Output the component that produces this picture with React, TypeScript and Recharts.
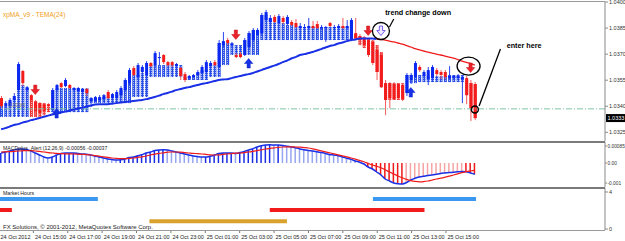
import React from "react";
import {
  ComposedChart,
  Bar,
  Line,
  XAxis,
  YAxis,
  Cell,
  ReferenceLine,
  ReferenceDot,
} from "recharts";

const FONT = "'Liberation Sans', Arial, sans-serif";

// 15 minute bars, 24 Oct 2012 13:00 -> 25 Oct 2012 15:45
const opens = [
  1.03447, 1.03401, 1.03401, 1.03436, 1.03493, 1.03603, 1.03493, 1.03464, 1.03424, 1.03418,
  1.03412, 1.03412, 1.03378, 1.03493, 1.03533, 1.03516, 1.03522, 1.03493, 1.03487, 1.03482,
  1.03499, 1.0343, 1.0343, 1.03436, 1.03441, 1.03482, 1.03447, 1.03447, 1.03464, 1.03493,
  1.03533, 1.0362, 1.03568, 1.03597, 1.0358, 1.03649, 1.03637, 1.03677, 1.03695, 1.03654,
  1.03654, 1.03631, 1.0362, 1.03585, 1.03562, 1.03568, 1.0358, 1.03591, 1.03597, 1.03631,
  1.03654, 1.03626, 1.03752, 1.03781, 1.03752, 1.03695, 1.037, 1.03695, 1.03741, 1.03781,
  1.0381, 1.03821, 1.03896, 1.03885, 1.03914, 1.03879, 1.03908, 1.03873, 1.03885, 1.03879,
  1.0385, 1.0385, 1.0385, 1.03862, 1.03873, 1.0385, 1.0385, 1.03879, 1.0385, 1.0385,
  1.03862, 1.0385, 1.03781, 1.03821, 1.03804, 1.03793, 1.03781, 1.0377, 1.03724, 1.03695,
  1.03533, 1.03533, 1.03528, 1.03528, 1.03522, 1.03476, 1.03551, 1.03568, 1.03626, 1.03574,
  1.03556, 1.03562, 1.03608, 1.03597, 1.03597, 1.03562, 1.03562, 1.03562, 1.03556, 1.03562,
  1.03533, 1.03528,
];
const highs = [
  1.03459, 1.0343, 1.03447, 1.03476, 1.03654, 1.03608, 1.03516, 1.0347, 1.03436, 1.03424,
  1.03418, 1.03418, 1.03505, 1.03528, 1.03539, 1.03562, 1.03528, 1.0351, 1.0351, 1.03505,
  1.03505, 1.03453, 1.03459, 1.03464, 1.0347, 1.03493, 1.03476, 1.03493, 1.03516, 1.03562,
  1.0362, 1.03631, 1.03649, 1.03637, 1.0366, 1.03654, 1.03718, 1.03712, 1.037, 1.0366,
  1.0366, 1.03649, 1.03626, 1.03597, 1.0358, 1.03585, 1.03608, 1.03637, 1.03666, 1.0366,
  1.03666, 1.03781, 1.03827, 1.03793, 1.0377, 1.03706, 1.03712, 1.03793, 1.03833, 1.0385,
  1.0385, 1.03937, 1.03954, 1.03925, 1.03925, 1.03931, 1.03919, 1.03925, 1.03896, 1.03902,
  1.03879, 1.03873, 1.03908, 1.03891, 1.03891, 1.03868, 1.03862, 1.03885, 1.03868, 1.03873,
  1.03908, 1.03896, 1.03908, 1.03908, 1.03816, 1.03804, 1.03793, 1.03781, 1.03752, 1.03712,
  1.03551, 1.03539, 1.03539, 1.03533, 1.03533, 1.03591, 1.03591, 1.0366, 1.03637, 1.03608,
  1.03626, 1.03637, 1.0362, 1.03608, 1.03608, 1.03631, 1.0358, 1.03585, 1.03574, 1.03574,
  1.03551, 1.03539,
];
const lows = [
  1.03389, 1.03389, 1.03395, 1.03424, 1.03482, 1.03516, 1.03482, 1.0343, 1.03338, 1.03332,
  1.03349, 1.03389, 1.03372, 1.03487, 1.03505, 1.0351, 1.03499, 1.03482, 1.03482, 1.0347,
  1.03459, 1.03395, 1.03424, 1.0343, 1.0343, 1.03441, 1.03441, 1.03441, 1.03453, 1.03482,
  1.03522, 1.03574, 1.03556, 1.03585, 1.03568, 1.03626, 1.03626, 1.03637, 1.03643, 1.03631,
  1.03626, 1.03626, 1.03551, 1.03539, 1.03551, 1.03562, 1.03574, 1.03585, 1.03591, 1.03626,
  1.03631, 1.0362, 1.03741, 1.03752, 1.03741, 1.03677, 1.03677, 1.03689, 1.03724, 1.0377,
  1.03804, 1.0381, 1.03885, 1.03873, 1.03879, 1.03873, 1.03873, 1.03868, 1.03862, 1.0385,
  1.03845, 1.03845, 1.03845, 1.03845, 1.03845, 1.03839, 1.0377, 1.03856, 1.03845, 1.03845,
  1.03845, 1.03845, 1.03775, 1.03781, 1.03752, 1.03735, 1.03683, 1.03637, 1.03551, 1.03505,
  1.03349, 1.03389, 1.03436, 1.03436, 1.0343, 1.03459, 1.03528, 1.03562, 1.03597, 1.03562,
  1.03522, 1.03551, 1.03574, 1.03556, 1.03556, 1.03551, 1.03551, 1.03551, 1.03418, 1.03412,
  1.03315, 1.0332,
];
const closes = [
  1.03401, 1.03418, 1.03436, 1.03459, 1.03643, 1.03533, 1.0351, 1.03436, 1.03372, 1.03361,
  1.03372, 1.03401, 1.03493, 1.03522, 1.0351, 1.03551, 1.03505, 1.03505, 1.03505, 1.03499,
  1.03476, 1.03447, 1.03453, 1.03453, 1.03464, 1.03447, 1.0347, 1.03482, 1.03505, 1.03551,
  1.03608, 1.0358, 1.03637, 1.03626, 1.03649, 1.03631, 1.03706, 1.03683, 1.03654, 1.03637,
  1.03637, 1.03643, 1.03574, 1.03551, 1.03574, 1.0358, 1.03597, 1.03626, 1.03654, 1.03649,
  1.03637, 1.03764, 1.03775, 1.03764, 1.03758, 1.03683, 1.03683, 1.03781, 1.03821, 1.03839,
  1.03839, 1.03925, 1.03942, 1.03908, 1.03885, 1.03919, 1.03885, 1.03914, 1.03868, 1.03856,
  1.03862, 1.03856, 1.03862, 1.0385, 1.0385, 1.03856, 1.03856, 1.03862, 1.03856, 1.03862,
  1.0385, 1.03862, 1.03896, 1.03793, 1.03781, 1.03752, 1.03695, 1.03649, 1.03597, 1.0351,
  1.03436, 1.03447, 1.03441, 1.03447, 1.03441, 1.0358, 1.0358, 1.03649, 1.03608, 1.03597,
  1.03608, 1.03626, 1.03585, 1.0358, 1.03568, 1.03574, 1.03574, 1.03574, 1.03568, 1.03464,
  1.03389, 1.03332,
];

// xpMA hatched trend blocks (top / bottom price) and their direction
const bandTop = [
  1.03401, 1.03401, 1.03424, 1.03447, 1.03643, 1.03522, 1.03505, 1.03436, 1.0343, 1.03418,
  1.03418, 1.03412, 1.03493, 1.03505, 1.03505, 1.03505, 1.03505, 1.03505, 1.03505, 1.03505,
  1.03505, 1.03447, 1.03447, 1.03447, 1.03453, 1.03453, 1.03453, 1.03464, 1.03493, 1.03551,
  1.03608, 1.0358, 1.0358, 1.03591, 1.0358, 1.03637, 1.03637, 1.03637, 1.03637, 1.03637,
  1.03637, 1.03637, 1.03637, 1.03568, 1.03568, 1.03568, 1.03591, 1.03608, 1.03608, 1.03637,
  1.03637, 1.03764, 1.03764, 1.03764, 1.03764, 1.03752, 1.03752, 1.03781, 1.03821, 1.03839,
  1.03839, 1.03925, 1.03925, 1.03908, 1.03885, 1.03879, 1.03879, 1.03868, 1.03868, 1.03856,
  1.03856, 1.03856, 1.03856, 1.03856, 1.03856, 1.03856, 1.03856, 1.03856, 1.03856, 1.03856,
  1.03856, 1.03856, 1.03896, 1.0381, 1.03804, 1.03798, 1.03793, 1.03781, 1.03752, 1.03712,
  1.03533, 1.03533, 1.03533, 1.03533, 1.03533, 1.0358, 1.0358, 1.0358, 1.0358, 1.0358,
  1.03574, 1.03574, 1.03574, 1.03574, 1.03574, 1.0358, 1.0358, 1.0358, 1.0358, 1.03551,
  1.03533, 1.03528,
];
const bandBottom = [
  1.03338, 1.03338, 1.03338, 1.03338, 1.03338, 1.03338, 1.03338, 1.03338, 1.03338, 1.03338,
  1.03349, 1.03366, 1.03366, 1.03366, 1.03366, 1.03366, 1.03366, 1.03366, 1.03366, 1.03366,
  1.03366, 1.03418, 1.03418, 1.03418, 1.03418, 1.03418, 1.03418, 1.03418, 1.03418, 1.03418,
  1.03418, 1.03453, 1.03453, 1.03453, 1.03453, 1.03568, 1.03568, 1.03568, 1.03568, 1.03568,
  1.03568, 1.03568, 1.03568, 1.03551, 1.03551, 1.03551, 1.03551, 1.03551, 1.03551, 1.03568,
  1.03568, 1.03568, 1.03637, 1.03637, 1.03695, 1.03695, 1.03695, 1.03695, 1.03695, 1.03695,
  1.03695, 1.03781, 1.03781, 1.03781, 1.03781, 1.03781, 1.03781, 1.03781, 1.03781, 1.03781,
  1.03781, 1.03781, 1.03781, 1.03781, 1.03781, 1.03781, 1.03781, 1.03781, 1.03781, 1.03781,
  1.03781, 1.03781, 1.03781, 1.03781, 1.03752, 1.03735, 1.03695, 1.03649, 1.03597, 1.0351,
  1.03436, 1.03436, 1.03436, 1.03436, 1.03436, 1.03476, 1.03533, 1.03533, 1.03539, 1.03539,
  1.03539, 1.03539, 1.03539, 1.03539, 1.03539, 1.03539, 1.03539, 1.03539, 1.03539, 1.03464,
  1.03389, 1.03332,
];
const bandTrend = [
  1, 1, 1, 1, 1, 1, 1, -1, -1, -1,
  -1, -1, 1, 1, 1, 1, 1, 1, 1, 1,
  1, 1, 1, 1, 1, 1, 1, 1, 1, 1,
  1, 1, 1, 1, 1, 1, 1, 1, 1, 1,
  1, 1, 1, 1, 1, 1, 1, 1, 1, 1,
  1, 1, 1, 1, 1, 1, 1, 1, 1, 1,
  1, 1, 1, 1, 1, 1, 1, 1, 1, 1,
  1, 1, 1, 1, 1, 1, 1, 1, 1, 1,
  1, 1, 1, -1, -1, -1, -1, -1, -1, -1,
  -1, -1, -1, -1, -1, 1, 1, 1, 1, 1,
  1, 1, 1, 1, 1, 1, 1, 1, 1, -1,
  -1, -1,
];

// TEMA(24): blue while rising, red after it turns
const tema = [
  1.03268, 1.03274, 1.03283, 1.03292, 1.03297, 1.03306, 1.03312, 1.0332, 1.03326, 1.03332,
  1.0334, 1.03346, 1.03352, 1.03358, 1.03364, 1.03369, 1.03375, 1.03381, 1.03387, 1.03392,
  1.03398, 1.03404, 1.0341, 1.03412, 1.03412, 1.03412, 1.03415, 1.03418, 1.03421, 1.03424,
  1.03427, 1.0343, 1.03433, 1.03436, 1.03441, 1.03447, 1.03453, 1.03461, 1.0347, 1.03476,
  1.03484, 1.03493, 1.03499, 1.03505, 1.0351, 1.03516, 1.03522, 1.03528, 1.03533, 1.03539,
  1.03545, 1.03551, 1.03554, 1.03556, 1.03562, 1.03568, 1.03574, 1.0358, 1.03585, 1.03591,
  1.036, 1.03608, 1.03617, 1.03626, 1.03634, 1.03643, 1.03654, 1.03663, 1.03675, 1.03683,
  1.03695, 1.037, 1.03706, 1.03712, 1.03721, 1.03729, 1.03738, 1.03747, 1.03752, 1.03761,
  1.03767, 1.03775, 1.03781, 1.03784, 1.0379, 1.0379, 1.0379, 1.0379, 1.03787, 1.03784,
  1.03781, 1.03775, 1.0377, 1.03764, 1.03758, 1.03749, 1.03741, 1.03732, 1.03724, 1.03718,
  1.03712, 1.03706, 1.037, 1.03695, 1.03689, 1.03683, 1.03677, 1.03669, 1.0366, 1.03652,
  1.03646, 1.03637,
];
const temaTurn = 88;

const macdMain = [
  0.0005, 0.00055, 0.0006, 0.00065, 0.0007, 0.0007, 0.00068, 0.0006, 0.0005, 0.0004,
  0.0003, 0.00025, 0.0003, 0.0004, 0.00048, 0.0005, 0.0005, 0.0005, 0.00048, 0.00045,
  0.00044, 0.0004, 0.00035, 0.0003, 0.00025, 0.0002, 0.00017, 0.00015, 0.00016, 0.0002,
  0.00027, 0.0003, 0.00036, 0.00042, 0.0005, 0.00055, 0.00062, 0.00065, 0.00066, 0.00065,
  0.0006, 0.00055, 0.0005, 0.00045, 0.0004, 0.00035, 0.00032, 0.0003, 0.0003, 0.00034,
  0.0004, 0.00048, 0.0005, 0.0005, 0.0005, 0.00048, 0.00052, 0.00058, 0.00065, 0.00072,
  0.0008, 0.00086, 0.0009, 0.00091, 0.0009, 0.0009, 0.00088, 0.00084, 0.0008, 0.00076,
  0.0007, 0.00066, 0.00062, 0.0006, 0.00056, 0.00052, 0.00048, 0.00042, 0.0004, 0.00036,
  0.0003, 0.00024, 0.00018, 0.0001, 0.00004, -0.00005, -0.0002, -0.0003, -0.00045, -0.0006,
  -0.0008, -0.0009, -0.001, -0.00104, -0.00105, -0.00098, -0.00085, -0.00076, -0.0007, -0.00066,
  -0.00062, -0.0006, -0.00056, -0.00052, -0.0005, -0.00048, -0.00046, -0.00044, -0.00042, -0.00044,
  -0.0005, -0.00056,
];
const macdSignal = [
  0.00055, 0.00056, 0.00057, 0.00058, 0.0006, 0.00061, 0.00062, 0.00062, 0.0006, 0.00058,
  0.00055, 0.00052, 0.0005, 0.00048, 0.00047, 0.00046, 0.00046, 0.00045, 0.00044, 0.00043,
  0.00042, 0.0004, 0.00037, 0.00034, 0.00031, 0.00028, 0.00025, 0.00023, 0.00022, 0.00022,
  0.00023, 0.00025, 0.00028, 0.00031, 0.00035, 0.0004, 0.00044, 0.00048, 0.00051, 0.00054,
  0.00055, 0.00055, 0.00054, 0.00052, 0.0005, 0.00048, 0.00047, 0.00045, 0.00043, 0.00041,
  0.0004, 0.00041, 0.00043, 0.00045, 0.00047, 0.00049, 0.0005, 0.00052, 0.00055, 0.00058,
  0.00062, 0.00066, 0.0007, 0.00073, 0.00076, 0.00078, 0.0008, 0.00081, 0.00081, 0.0008,
  0.00079, 0.00077, 0.00075, 0.00071, 0.00066, 0.00061, 0.00056, 0.00051, 0.00046, 0.00041,
  0.00036, 0.00031, 0.00025, 0.00019, 0.00013, 0.00006, -0.00002, -0.0001, -0.00016, -0.00024,
  -0.00034, -0.00045, -0.00055, -0.00065, -0.00074, -0.00082, -0.00088, -0.00092, -0.00094, -0.00093,
  -0.0009, -0.00085, -0.0008, -0.00076, -0.00071, -0.00066, -0.0006, -0.00054, -0.00048, -0.00043,
  -0.0004, -0.00037,
];

// Market Hours panel: bar index ranges of each session and its level
const sessionBlue = [[0, 23], [87, 111]];
const sessionRed = [[0, 3], [63, 99]];
const sessionGold = [[35, 67]];
const levelBlue = 3.25;
const levelRed = 2.05;
const levelGold = 0.85;

// signal arrows (bar index, price)
const sellBars = [8, 55, 86, 110];
const sellPrices = [1.03493, 1.0381, 1.03833, 1.0362];
const buyBars = [13, 58, 96];
const buyPrices = [1.03361, 1.03649, 1.03482];
const trendBar = 89;
const trendPrice = 1.03833;
const hLinePrice = 1.03385;

const timeLabels = [
  "24 Oct 2012", "24 Oct 15:00", "24 Oct 17:00", "24 Oct 19:00", "24 Oct 21:00",
  "24 Oct 23:00", "25 Oct 01:00", "25 Oct 03:00", "25 Oct 05:00", "25 Oct 07:00",
  "25 Oct 09:00", "25 Oct 11:00", "25 Oct 13:00", "25 Oct 15:00",
];
const TICK_EVERY = 8;
const priceTicks = [1.0325, 1.034, 1.0355, 1.037, 1.0385, 1.04];
const macdTicks = [-0.001, 0, 0.00085];
const hoursTicks = [0, 4];

const SLOTS = 142; // visible bar slots, the right part is still empty
const CHART_W = 627;
const AXIS_W = 21;

const inRanges = (ranges: number[][], i: number) =>
  ranges.some(([a, b]) => i >= a && i <= b);

const rows = Array.from({ length: SLOTS }, (_, i) => {
  const has = i < opens.length;
  return {
    t: i,
    candle: has
      ? [Math.min(lows[i], bandBottom[i]), Math.max(highs[i], bandTop[i])]
      : null,
    o: has ? opens[i] : null,
    h: has ? highs[i] : null,
    l: has ? lows[i] : null,
    c: has ? closes[i] : null,
    bt: has ? bandTop[i] : null,
    bb: has ? bandBottom[i] : null,
    trend: has ? bandTrend[i] : 0,
    temaUp: has && i <= temaTurn ? tema[i] : null,
    temaDown: has && i >= temaTurn ? tema[i] : null,
    macd: has ? macdMain[i] : null,
    signal: has ? macdSignal[i] : null,
    sBlue: has && inRanges(sessionBlue, i) ? levelBlue : null,
    sRed: has && inRanges(sessionRed, i) ? levelRed : null,
    sGold: has && inRanges(sessionGold, i) ? levelGold : null,
  };
});

function histColor(i: number) {
  if (i >= macdMain.length) return "none";
  const v = macdMain[i];
  const prev = i > 0 ? macdMain[i - 1] : v;
  if (v >= 0) return v >= prev ? "#1b2ee6" : "#98a6f0";
  return v <= prev ? "#f01818" : "#f6a4a4";
}

function CandleShape(props: any) {
  const { x, y, width, height, payload } = props;
  if (!payload || payload.o == null) return null;
  const [lo, hi] = payload.candle;
  const top = height >= 0 ? y : y + height;
  const k = Math.abs(height) / (hi - lo);
  const py = (v: number) => top + (hi - v) * k;
  const up = payload.c >= payload.o;
  const mid = x + width / 2;
  const bTop = py(payload.bt);
  const bBot = py(payload.bb);
  const oTop = py(Math.max(payload.o, payload.c));
  const oBot = py(Math.min(payload.o, payload.c));
  return (
    <g>
      <rect
        x={x}
        y={bTop}
        width={width}
        height={Math.max(bBot - bTop, 1)}
        fill={payload.trend > 0 ? "url(#hatchUp)" : "url(#hatchDown)"}
      />
      <line
        x1={mid}
        x2={mid}
        y1={py(payload.h)}
        y2={py(payload.l)}
        stroke={up ? "#2a44f0" : "#f05a5a"}
        strokeWidth={1}
      />
      <rect
        x={x}
        y={oTop}
        width={width}
        height={Math.max(oBot - oTop, 1)}
        fill={up ? "#0a28f0" : "#f21c1c"}
      />
    </g>
  );
}

const arrowPath = (cx: number, cy: number, s: number) =>
  `M${cx - 1.6},${cy - 5 * s} L${cx + 1.6},${cy - 5 * s} L${cx + 1.6},${cy - 0.5 * s} ` +
  `L${cx + 4.2},${cy - 0.5 * s} L${cx},${cy + 4.5 * s} L${cx - 4.2},${cy - 0.5 * s} ` +
  `L${cx - 1.6},${cy - 0.5 * s} Z`;

const rightTick = (fmt: (v: number) => string, size = 5.5) => (props: any) => {
  const { x, y, payload } = props;
  return (
    <text x={x} y={y} dy="0.35em" fontSize={size} fill="#333" fontFamily={FONT}>
      {fmt(payload.value)}
    </text>
  );
};

function TimeTick(props: any) {
  const { x, y, payload } = props;
  const label = timeLabels[Math.round(payload.value / TICK_EVERY)];
  return (
    <g>
      <line x1={x} x2={x} y1={y} y2={y + 3} stroke="#777" />
      <text x={x + 1.5} y={y + 8.5} fontSize={5.5} fill="#222" fontFamily={FONT}>
        {label}
      </text>
    </g>
  );
}

function PriceTag(props: any) {
  const { viewBox } = props;
  if (!viewBox) return null;
  const x = viewBox.x + viewBox.width + 1;
  return (
    <g>
      <rect x={x} y={viewBox.y - 4} width={20} height={8} fill="#000" />
      <text x={x + 1.5} y={viewBox.y} dy="0.35em" fontSize={5.5} fill="#fff" fontFamily={FONT}>
        {closes[closes.length - 1].toFixed(4)}
      </text>
    </g>
  );
}

function HLineTag(props: any) {
  const { viewBox } = props;
  if (!viewBox) return null;
  return (
    <text x={viewBox.x + 10} y={viewBox.y - 1.5} fontSize={4.5} fill="#777" fontFamily={FONT}>
      {hLinePrice.toFixed(5)}
    </text>
  );
}

const hLine = (top: number, h: number, color = "#7a7a7a") => (
  <div
    style={{
      position: "absolute",
      left: 0,
      top,
      width: 605,
      height: h,
      background: color,
    }}
  />
);

export default function App() {
  const lastM = macdMain[macdMain.length - 1].toFixed(5);
  const lastS = macdSignal[macdSignal.length - 1].toFixed(5);
  return (
    <div
      style={{
        position: "fixed",
        left: 0,
        top: 0,
        width: 625,
        height: 241,
        background: "#fff",
        overflow: "hidden",
        fontFamily: FONT,
      }}
    >
      {/* main price window */}
      <div style={{ position: "absolute", left: -1, top: 0 }}>
        <ComposedChart
          width={CHART_W}
          height={141}
          data={rows}
          margin={{ top: 2, right: 0, bottom: 0, left: 0 }}
          barCategoryGap={0}
        >
          <defs>
            <pattern id="hatchUp" width="2" height="2" patternUnits="userSpaceOnUse">
              <rect width="2" height="2" fill="#2a4de4" />
              <rect width="1" height="1" fill="#9fb3f4" />
            </pattern>
            <pattern id="hatchDown" width="2" height="2" patternUnits="userSpaceOnUse">
              <rect width="2" height="2" fill="#ee3434" />
              <rect width="1" height="1" fill="#ffb4b4" />
            </pattern>
          </defs>
          <XAxis dataKey="t" hide />
          <YAxis
            orientation="right"
            width={AXIS_W}
            domain={[1.032, 1.04]}
            ticks={priceTicks}
            interval={0}
            allowDataOverflow
            tickSize={3}
            tickMargin={1}
            axisLine={{ stroke: "#8a8a8a" }}
            tickLine={{ stroke: "#8a8a8a" }}
            tick={rightTick((v) => v.toFixed(4))}
          />
          <ReferenceLine
            y={hLinePrice}
            stroke="#7dc6a6"
            strokeDasharray="6 2 1 2"
            label={<HLineTag />}
          />
          <ReferenceLine
            y={closes[closes.length - 1]}
            stroke="none"
            label={<PriceTag />}
          />
          <Bar
            dataKey="candle"
            barSize={3}
            shape={<CandleShape />}
            isAnimationActive={false}
          />
          <Line
            dataKey="temaUp"
            type="monotone"
            stroke="#1a30e6"
            strokeWidth={2}
            dot={false}
            isAnimationActive={false}
          />
          <Line
            dataKey="temaDown"
            type="monotone"
            stroke="#f01c1c"
            strokeWidth={1.3}
            dot={false}
            isAnimationActive={false}
          />
          {sellBars.map((b, k) => (
            <ReferenceDot
              key={`s${k}`}
              x={b}
              y={sellPrices[k]}
              r={0}
              shape={(p: any) => (
                <path d={arrowPath(p.cx, p.cy, 1)} fill="#e8222c" stroke="#c81010" strokeWidth={0.5} />
              )}
            />
          ))}
          {buyBars.map((b, k) => (
            <ReferenceDot
              key={`b${k}`}
              x={b}
              y={buyPrices[k]}
              r={0}
              shape={(p: any) => (
                <path d={arrowPath(p.cx, p.cy, -1)} fill="#1630e8" stroke="#0a20c0" strokeWidth={0.5} />
              )}
            />
          ))}
          <ReferenceDot
            x={trendBar}
            y={trendPrice}
            r={0}
            shape={(p: any) => (
              <g>
                <path d={arrowPath(p.cx, p.cy, 1)} fill="#efeaff" stroke="#7a5cf0" strokeWidth={1} />
                <circle cx={p.cx} cy={p.cy} r={8.5} fill="none" stroke="#000" strokeWidth={1.3} />
              </g>
            )}
          />
          <ReferenceLine
            segment={[
              { x: 91, y: 1.03856 },
              { x: 92, y: 1.03902 },
            ]}
            stroke="#000"
            strokeWidth={1.2}
          />
          <ReferenceDot
            x={90}
            y={1.03925}
            r={0}
            shape={(p: any) => (
              <text x={p.cx} y={p.cy} fontSize={7.2} fontWeight="bold" fill="#000" fontFamily={FONT}>
                trend change down
              </text>
            )}
          />
          <ReferenceDot
            x={110}
            y={1.03631}
            r={0}
            shape={(p: any) => (
              <ellipse cx={p.cx - 2} cy={p.cy} rx={11.5} ry={9} fill="none" stroke="#000" strokeWidth={1.3} />
            )}
          />
          <ReferenceDot
            x={111}
            y={1.03381}
            r={0}
            shape={(p: any) => (
              <circle cx={p.cx} cy={p.cy} r={3.5} fill="none" stroke="#000" strokeWidth={1.5} />
            )}
          />
          <ReferenceLine
            segment={[
              { x: 112, y: 1.03401 },
              { x: 117, y: 1.03729 },
            ]}
            stroke="#000"
            strokeWidth={1.3}
          />
          <ReferenceDot
            x={118}
            y={1.03735}
            r={0}
            shape={(p: any) => (
              <text x={p.cx + 2} y={p.cy} fontSize={7.2} fontWeight="bold" fill="#000" fontFamily={FONT}>
                enter here
              </text>
            )}
          />
        </ComposedChart>
      </div>

      {/* MACD window */}
      <div style={{ position: "absolute", left: -1, top: 142 }}>
        <ComposedChart
          width={CHART_W}
          height={45}
          data={rows}
          margin={{ top: 0, right: 0, bottom: 0, left: 0 }}
          barCategoryGap={0}
        >
          <XAxis dataKey="t" hide />
          <YAxis
            orientation="right"
            width={AXIS_W}
            domain={[-0.0012, 0.00105]}
            ticks={macdTicks}
            interval={0}
            allowDataOverflow
            tickSize={2}
            tickMargin={0.5}
            axisLine={{ stroke: "#8a8a8a" }}
            tickLine={{ stroke: "#8a8a8a" }}
            tick={rightTick((v) => (v === 0 ? "0.00" : String(v)), 4.8)}
          />
          <Bar dataKey="macd" barSize={1.5} isAnimationActive={false}>
            {rows.map((r) => (
              <Cell key={r.t} fill={histColor(r.t)} />
            ))}
          </Bar>
          <Line
            dataKey="macd"
            type="monotone"
            stroke="#1a30e6"
            strokeWidth={1.5}
            dot={false}
            isAnimationActive={false}
          />
          <Line
            dataKey="signal"
            type="monotone"
            stroke="#f01c1c"
            strokeWidth={1.2}
            dot={false}
            isAnimationActive={false}
          />
        </ComposedChart>
      </div>

      {/* Market Hours window + time axis */}
      <div style={{ position: "absolute", left: -1, top: 188 }}>
        <ComposedChart
          width={CHART_W}
          height={53}
          data={rows}
          margin={{ top: 0, right: 0, bottom: 0, left: 0 }}
        >
          <XAxis
            dataKey="t"
            height={11}
            ticks={timeLabels.map((_, k) => k * TICK_EVERY)}
            interval={0}
            axisLine={false}
            tickLine={false}
            tickSize={0}
            tickMargin={0}
            tick={<TimeTick />}
          />
          <YAxis
            orientation="right"
            width={AXIS_W}
            domain={[-0.1, 4.43]}
            ticks={hoursTicks}
            interval={0}
            allowDataOverflow
            tickSize={3}
            tickMargin={1}
            axisLine={{ stroke: "#8a8a8a" }}
            tickLine={{ stroke: "#8a8a8a" }}
            tick={rightTick((v) => String(v))}
          />
          <Line dataKey="sBlue" stroke="#3a98f0" strokeWidth={4} dot={false} isAnimationActive={false} />
          <Line dataKey="sRed" stroke="#f21a1a" strokeWidth={4} dot={false} isAnimationActive={false} />
          <Line dataKey="sGold" stroke="#d9a22c" strokeWidth={4} dot={false} isAnimationActive={false} />
        </ComposedChart>
      </div>

      {/* window frames */}
      {hLine(1, 1, "#9a9a9a")}
      {hLine(141, 2)}
      {hLine(187, 2)}
      {hLine(230, 1, "#9a9a9a")}

      {/* window captions */}
      <svg
        width={625}
        height={241}
        style={{ position: "absolute", left: 0, top: 0, pointerEvents: "none" }}
      >
        <text x={3} y={17} fontSize={6.5} fill="#f0a020" fontFamily={FONT}>
          xpMA_v9 - TEMA(24)
        </text>
        <text x={3} y={150} fontSize={5.2} fill="#222" fontFamily={FONT}>
          {`MACDplus_Alert (12,26,9) ${lastM} ${lastS}`}
        </text>
        <text x={3} y={195} fontSize={5.2} fill="#222" fontFamily={FONT}>
          Market Hours
        </text>
        <text x={3} y={229} fontSize={6} fill="#222" fontFamily={FONT}>
          FX Solutions, © 2001-2012, MetaQuotes Software Corp.
        </text>
      </svg>
    </div>
  );
}
